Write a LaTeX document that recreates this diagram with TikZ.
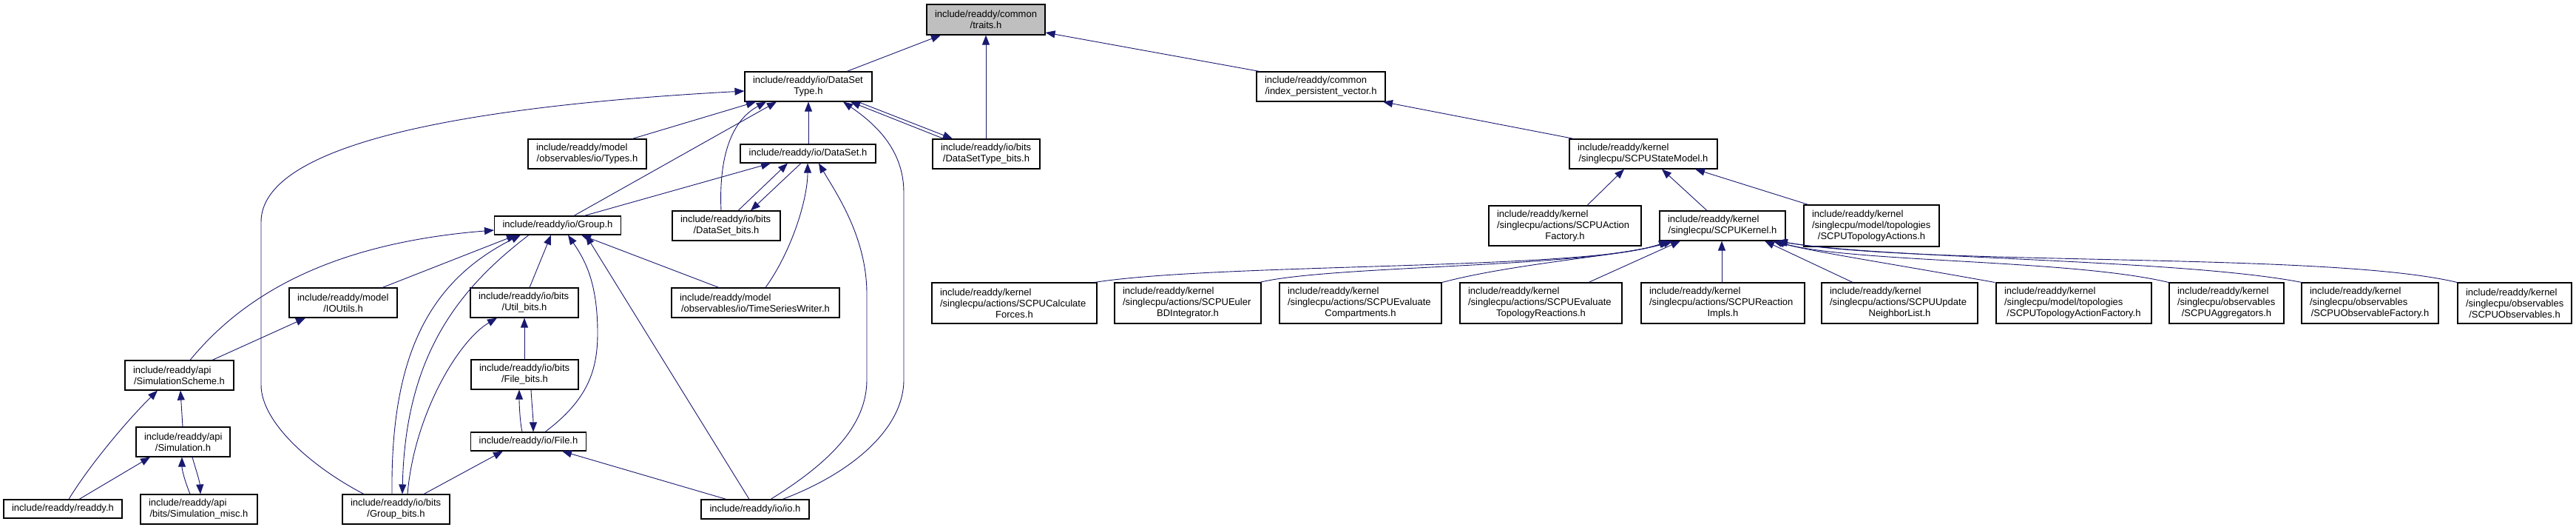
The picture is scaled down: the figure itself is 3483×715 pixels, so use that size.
\documentclass[tikz,border=0pt]{standalone}
\usepackage{fontspec}
\setmainfont{Liberation Sans}
\usetikzlibrary{arrows.meta}
\definecolor{edgeblue}{HTML}{191970}
\definecolor{rootgray}{HTML}{BFBFBF}
\newcommand\twol[2]{#1\par{\centering #2\par}}
\newcommand\threel[3]{#1\par #2\par{\centering #3\par}}
\begin{document}
\begin{tikzpicture}[x=1pt,y=-1pt,
  hbox/.style={draw=black, line width=1.1pt, inner xsep=11pt, inner ysep=0pt,
    font=\fontsize{13}{15}\selectfont},
  hb/.style n args={3}{hbox, minimum width=#1pt, minimum height=#2pt, text width=#3pt},
  sb/.style n args={2}{hbox, minimum width=#1pt, minimum height=#2pt, align=center},
  edge/.style={draw=edgeblue, line width=0.9pt, -{Triangle[length=13pt,width=10pt]}}]
\fill[white] (0,0) rectangle (3483,715);
\useasboundingbox (0,0) rectangle (3483,715);

% nodes
\node[hb={160}{41}{138}, fill=rootgray] (traits) at (1333,26.5) {\twol{include/readdy/common}{/traits.h}};
\node[hb={172}{40}{150}] (dst) at (1093,117) {\twol{include/readdy/io/DataSet}{Type.h}};
\node[hb={174}{40}{152}] (ipv) at (1786,117) {\twol{include/readdy/common}{/index\_persistent\_vector.h}};
\node[hb={160}{40}{138}] (types) at (794,208) {\twol{include/readdy/model}{/observables/io/Types.h}};
\node[sb={183}{25}] (ds) at (1092.5,207.5) {include/readdy/io/DataSet.h};
\node[hb={145}{40}{123}] (dstb) at (1333.5,208) {\twol{include/readdy/io/bits}{/DataSetType\_bits.h}};
\node[hb={200}{40}{178}] (sm) at (2222,208) {\twol{include/readdy/kernel}{/singlecpu/SCPUStateModel.h}};
\node[sb={170}{25}] (group) at (754,304.5) {include/readdy/io/Group.h};
\node[hb={146}{40}{124}] (dsb) at (982,305) {\twol{include/readdy/io/bits}{/DataSet\_bits.h}};
\node[hb={206}{54}{184}] (af) at (2116,305) {\threel{include/readdy/kernel}{/singlecpu/actions/SCPUAction}{Factory.h}};
\node[hb={170}{40}{148}] (kernel) at (2329,305) {\twol{include/readdy/kernel}{/singlecpu/SCPUKernel.h}};
\node[hb={183}{56}{161}] (ta) at (2530.5,305) {\threel{include/readdy/kernel}{/singlecpu/model/topologies}{/SCPUTopologyActions.h}};
\node[hb={146}{40}{124}] (ioutils) at (464,409) {\twol{include/readdy/model}{/IOUtils.h}};
\node[hb={146}{40}{124}] (utilb) at (709,409) {\twol{include/readdy/io/bits}{/Util\_bits.h}};
\node[hb={227}{40}{205}] (tsw) at (1021.5,409) {\twol{include/readdy/model}{/observables/io/TimeSeriesWriter.h}};
\node[hb={223}{55}{201}] (calc) at (1371.5,409.5) {\threel{include/readdy/kernel}{/singlecpu/actions/SCPUCalculate}{Forces.h}};
\node[hb={198}{55}{176}] (euler) at (1606,409.5) {\threel{include/readdy/kernel}{/singlecpu/actions/SCPUEuler}{BDIntegrator.h}};
\node[hb={219}{55}{197}] (evcomp) at (1839.5,409.5) {\threel{include/readdy/kernel}{/singlecpu/actions/SCPUEvaluate}{Compartments.h}};
\node[hb={219}{55}{197}] (evtop) at (2083.5,409.5) {\threel{include/readdy/kernel}{/singlecpu/actions/SCPUEvaluate}{TopologyReactions.h}};
\node[hb={221}{55}{199}] (reac) at (2329.5,409.5) {\threel{include/readdy/kernel}{/singlecpu/actions/SCPUReaction}{Impls.h}};
\node[hb={211}{55}{189}] (upd) at (2568.5,409.5) {\threel{include/readdy/kernel}{/singlecpu/actions/SCPUUpdate}{NeighborList.h}};
\node[hb={210}{55}{188}] (taf) at (2804,409.5) {\threel{include/readdy/kernel}{/singlecpu/model/topologies}{/SCPUTopologyActionFactory.h}};
\node[hb={155}{55}{133}] (agg) at (3010.5,409.5) {\threel{include/readdy/kernel}{/singlecpu/observables}{/SCPUAggregators.h}};
\node[hb={185}{55}{163}] (obsf) at (3204.5,409.5) {\threel{include/readdy/kernel}{/singlecpu/observables}{/SCPUObservableFactory.h}};
\node[hb={154}{55}{132}] (obs) at (3400,409.5) {\threel{include/readdy/kernel}{/singlecpu/observables}{/SCPUObservables.h}};
\node[hb={147}{40}{125}] (simscheme) at (242.5,507) {\twol{include/readdy/api}{/SimulationScheme.h}};
\node[hb={145}{40}{123}] (fileb) at (709.5,506) {\twol{include/readdy/io/bits}{/File\_bits.h}};
\node[hb={127}{40}{105}] (sim) at (247.5,597) {\twol{include/readdy/api}{/Simulation.h}};
\node[sb={155}{25}] (file) at (714.5,596.5) {include/readdy/io/File.h};
\node[sb={160}{25}] (readdy) at (85,687.5) {include/readdy/readdy.h};
\node[hb={158}{40}{136}] (simmisc) at (269,688) {\twol{include/readdy/api}{/bits/Simulation\_misc.h}};
\node[hb={145}{40}{123}] (groupb) at (535.5,688) {\twol{include/readdy/io/bits}{/Group\_bits.h}};
\node[sb={146}{26}] (io) at (1021,688) {include/readdy/io/io.h};

% right part
\draw[edge] (dst.north -| 1145,0) -- (traits.south -| 1272,0);
\draw[edge] (dstb.north -| 1333,0) -- (traits.south -| 1333,0);
\draw[edge] (ipv.north -| 1703,0) -- (traits.east |- 0,44);
\draw[edge] (sm.north -| 2128,0) -- (ipv.south -| 1870,0);
\draw[edge] (af.north -| 2146,0) -- (sm.south -| 2196,0);
\draw[edge] (kernel.north -| 2308,0) -- (sm.south -| 2247,0);
\draw[edge] (ta.north -| 2445,0) -- (sm.south -| 2292,0);
\draw[edge] (calc.north -| 1480,0) .. controls (1650,355) and (2150,365) .. (kernel.south -| 2256,0);
\draw[edge] (euler.north -| 1703,0) .. controls (1800,358) and (2150,362) .. (kernel.south -| 2258,0);
\draw[edge] (evcomp.north -| 1950,0) .. controls (2050,355) and (2200,345) .. (kernel.south -| 2262,0);
\draw[edge] (evtop.north -| 2148,0) -- (kernel.south -| 2272,0);
\draw[edge] (reac.north -| 2328,0) -- (kernel.south -| 2328,0);
\draw[edge] (upd.north -| 2505,0) -- (kernel.south -| 2386,0);
\draw[edge] (taf.north -| 2697,0) .. controls (2550,355) and (2450,340) .. (kernel.south -| 2397,0);
\draw[edge] (agg.north -| 2932,0) .. controls (2800,350) and (2500,355) .. (kernel.south -| 2400,0);
\draw[edge] (obsf.north -| 3112,0) .. controls (2950,350) and (2550,350) .. (kernel.south -| 2402,0);
\draw[edge] (obs.north -| 3322,0) .. controls (3150,340) and (2600,360) .. (kernel.south -| 2404,0);

% left part
\draw[edge] (types.north -| 855,0) -- (dst.south -| 1022,0);
\draw[edge] (ds.north -| 1093,0) -- (dst.south -| 1093,0);
\draw[edge] (dstb.north -| 1276,0) -- (dst.south -| 1150,0);
\draw[edge] (dst.south -| 1160,0) -- (dstb.north -| 1288,0);
\draw[edge] (io.north -| 1058,0) .. controls (1150,640) and (1222,580) .. (1222,513) -- (1222,260) .. controls (1222,200) and (1180,165) .. (dst.south -| 1140,0);
\draw[edge] (group.north -| 776,0) -- (dst.south -| 1050,0);
\draw[edge] (dsb.north -| 975,0) .. controls (972,220) and (985,165) .. (dst.south -| 1036,0);
\draw[edge] (groupb.north -| 492,0) .. controls (420,630) and (353,570) .. (353,520) -- (353,300) .. controls (353,200) and (600,145) .. (dst.west |- 0,123);
\draw[edge] (group.north -| 790,0) -- (ds.south -| 1042,0);
\draw[edge] (dsb.north -| 998,0) -- (ds.south -| 1065,0);
\draw[edge] (ds.south -| 1083,0) -- (dsb.north -| 1015,0);
\draw[edge] (tsw.north -| 1035,0) .. controls (1070,340) and (1092,270) .. (ds.south -| 1092,0);
\draw[edge] (io.north -| 1042,0) .. controls (1130,620) and (1172,570) .. (1172,513) -- (1172,397) .. controls (1172,320) and (1130,260) .. (ds.south -| 1107,0);
\draw[edge] (simscheme.north -| 257,0) .. controls (320,410) and (430,330) .. (group.west |- 0,311);
\draw[edge] (ioutils.north -| 517,0) -- (group.south -| 698,0);
\draw[edge] (groupb.north -| 530,0) .. controls (528,480) and (580,380) .. (group.south -| 704,0);
\draw[edge] (group.south -| 715,0) .. controls (620,390) and (548,480) .. (groupb.north -| 544,0);
\draw[edge] (groupb.north -| 551,0) .. controls (560,560) and (620,460) .. (utilb.south -| 672,0);
\draw[edge] (utilb.north -| 716,0) -- (group.south -| 745,0);
\draw[edge] (file.north -| 737,0) .. controls (795,540) and (808,500) .. (808,450) .. controls (808,380) and (790,350) .. (group.south -| 768,0);
\draw[edge] (io.north -| 1013,0) -- (group.south -| 792,0);
\draw[edge] (tsw.north -| 972,0) -- (group.south -| 786,0);
\draw[edge] (simscheme.north -| 287,0) -- (ioutils.south -| 413,0);
\draw[edge] (sim.north -| 247,0) -- (simscheme.south -| 244,0);
\draw[edge] (readdy.north -| 93,0) .. controls (120,630) and (170,570) .. (simscheme.south -| 213,0);
\draw[edge] (readdy.north -| 107,0) -- (sim.south -| 203,0);
\draw[edge] (simmisc.north -| 257,0) .. controls (250,650) and (246,635) .. (sim.south -| 246,0);
\draw[edge] (sim.south -| 260,0) .. controls (265,635) and (270,650) .. (simmisc.north -| 271,0);
\draw[edge] (fileb.north -| 709,0) -- (utilb.south -| 709,0);
\draw[edge] (file.north -| 706,0) .. controls (703,570) and (702,545) .. (fileb.south -| 702,0);
\draw[edge] (fileb.south -| 718,0) .. controls (719,545) and (721,565) .. (file.north -| 721,0);
\draw[edge] (groupb.north -| 573,0) -- (file.south -| 680,0);
\draw[edge] (io.north -| 982,0) -- (file.south -| 760,0);
\end{tikzpicture}
\end{document}
